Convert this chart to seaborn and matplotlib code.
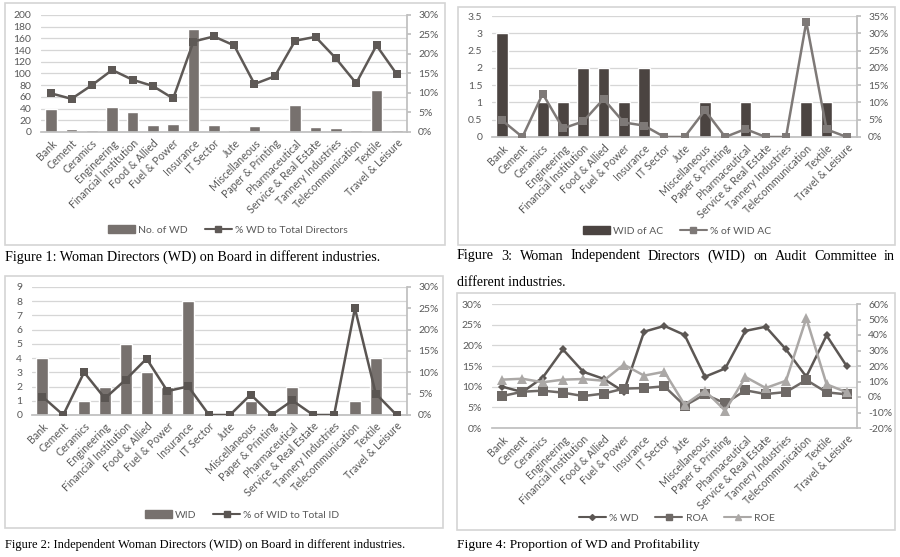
import numpy as np
import pandas as pd
import seaborn as sns
import matplotlib.pyplot as plt
from matplotlib.patches import Rectangle, Patch
from matplotlib.lines import Line2D

# ================= DATA =================
INDUSTRIES = [
    "Bank", "Cement", "Ceramics", "Engineering", "Financial Institution",
    "Food & Allied", "Fuel & Power", "Insurance", "IT Sector", "Jute",
    "Miscellaneous", "Paper & Printing", "Pharmaceutical",
    "Service & Real Estate", "Tannery Industries", "Telecommunication",
    "Textile", "Travel & Leisure",
]

# Figure 1
no_of_wd = [39, 5, 4, 43, 34, 12, 14, 176, 12, 4, 10, 2, 46, 9, 6, 3, 71, 4]
pct_wd_total = [9.9, 8.5, 12.0, 15.9, 13.4, 11.8, 8.6, 23.2, 24.5, 22.2,
                12.3, 14.3, 23.4, 24.4, 18.9, 12.5, 22.2, 14.8]

# Figure 2
wid = [4, 0, 1, 2, 5, 3, 2, 8, 0, 0, 1, 0, 2, 0, 0, 1, 4, 0]
pct_wid_total_id = [4.3, 0, 10.0, 3.9, 8.3, 13.2, 5.6, 6.7, 0, 0,
                    4.8, 0, 3.4, 0, 0, 25.0, 5.0, 0]

# Figure 3
wid_ac = [3, 0, 1, 1, 2, 2, 1, 2, 0, 0, 1, 0, 1, 0, 0, 1, 1, 0]
pct_wid_ac = [4.8, 0, 12.5, 2.5, 4.5, 11.0, 4.2, 3.3, 0, 0,
              7.7, 0, 2.3, 0, 0, 33.3, 2.2, 0]

# Figure 4
pct_wd = [10.0, 8.7, 12.2, 19.0, 13.6, 11.9, 8.8, 23.3, 24.7, 22.5,
          12.4, 14.4, 23.5, 24.5, 19.0, 12.4, 22.4, 14.9]
roa = [0.6, 3.4, 4.1, 2.8, 0.6, 2.2, 5.4, 5.8, 6.9, -5.6,
       1.7, -4.1, 4.3, 1.9, 3.2, 11.0, 3.0, 1.7]
roe = [11.2, 11.8, 9.5, 11.2, 11.6, 10.5, 20.9, 13.8, 16.3, -5.0,
       4.1, -8.8, 12.9, 5.8, 10.5, 50.8, 8.2, 3.0]
# =========================================

df = pd.DataFrame({
    "industry": INDUSTRIES,
    "no_of_wd": no_of_wd, "pct_wd_total": pct_wd_total,
    "wid": wid, "pct_wid_total_id": pct_wid_total_id,
    "wid_ac": wid_ac, "pct_wid_ac": pct_wid_ac,
    "pct_wd": pct_wd, "roa": roa, "roe": roe,
})

sns.set_theme(style="white")
plt.rcParams["font.family"] = ["Lato", "DejaVu Sans"]

W, H = 900, 557
fig = plt.figure(figsize=(9, 5.57), dpi=100)

GRID = "#d6d6d6"
AXC = "#bfbfbf"
TXT = "#595959"
SERIF = "Liberation Serif"


def fx(px):
    return px / W


def fy(py):
    return 1 - py / H


def make_axes(x0, y0, x1, y1):
    return fig.add_axes([fx(x0), fy(y1), fx(x1) - fx(x0), (y1 - y0) / H])


def style(ax, ax2, yticks, ylabels, yticks2, ylabels2):
    ax.set_yticks(yticks)
    ax.set_yticklabels(ylabels)
    ax2.set_yticks(yticks2)
    ax2.set_yticklabels(ylabels2)
    ax.set_ylim(yticks[0], yticks[-1])
    ax2.set_ylim(yticks2[0], yticks2[-1])
    ax.yaxis.grid(True, color=GRID, lw=0.9)
    ax.set_axisbelow(True)
    for a in (ax, ax2):
        a.set_xlabel("")
        a.set_ylabel("")
        a.set_xlim(-0.5, len(INDUSTRIES) - 0.5)
        for s in a.spines.values():
            s.set_visible(False)
    ax.spines["bottom"].set_visible(True)
    ax.spines["bottom"].set_color(AXC)
    ax2.spines["right"].set_visible(True)
    ax2.spines["right"].set_color(AXC)
    ax.tick_params(axis="y", length=0, labelsize=7.5, labelcolor=TXT, pad=7)
    ax2.tick_params(axis="y", right=True, length=3, color=AXC, labelsize=7.5,
                    labelcolor=TXT, pad=5)
    ax.set_xticks(range(len(INDUSTRIES)))
    ax.set_xticklabels(INDUSTRIES, rotation=45, ha="right",
                       rotation_mode="anchor")
    ax.tick_params(axis="x", length=0, labelsize=7.7, labelcolor=TXT, pad=4)
    ax2.tick_params(axis="x", bottom=False, labelbottom=False)


def box(x0, y0, x1, y1):
    fig.add_artist(Rectangle((fx(x0), fy(y1)), fx(x1) - fx(x0), (y1 - y0) / H,
                             transform=fig.transFigure, fill=False,
                             ec="#d4d4d4", lw=1.2))


def legend(handles, labels, cx, cy):
    fig.legend(handles, labels, loc="center", bbox_to_anchor=(fx(cx), fy(cy)),
               ncol=len(handles), frameon=False, fontsize=7.5,
               handlelength=2.6, handletextpad=0.3, columnspacing=1.6,
               labelcolor=TXT)


pct = lambda vals: [f"{v:g}%" for v in vals]

# --------------------------------------------------
# Figure 1
# --------------------------------------------------
box(5, 3, 445, 245)
ax = make_axes(41, 15, 407, 132)
ax2 = ax.twinx()
c_bar, c_line = "#77716e", "#5e5956"
sns.barplot(data=df, x="industry", y="no_of_wd", color=c_bar, saturation=1,
            width=0.58, ax=ax)
sns.pointplot(data=df, x="industry", y="pct_wd_total", color=c_line,
              errorbar=None, markers="s", linestyles="-", ax=ax2,
              markersize=5.5, linewidth=1.8, markeredgewidth=0)
style(ax, ax2, list(range(0, 201, 20)), [str(v) for v in range(0, 201, 20)],
      list(range(0, 31, 5)), pct(range(0, 31, 5)))
legend([Patch(color=c_bar),
        Line2D([], [], color=c_line, marker="s", ms=5, lw=1.5)],
       ["No. of WD", "% WD to Total Directors"], 228, 230)
fig.text(fx(5), fy(257), "Figure 1: Woman Directors (WD) on Board in different industries.",
         family=SERIF, fontsize=10.2, va="center", color="black")

# --------------------------------------------------
# Figure 3
# --------------------------------------------------
box(458, 7, 895, 245)
ax = make_axes(492, 16, 857, 137)
ax2 = ax.twinx()
c_bar, c_line = "#4b4441", "#7e7977"
sns.barplot(data=df, x="industry", y="wid_ac", color=c_bar, saturation=1,
            width=0.58, ax=ax)
sns.pointplot(data=df, x="industry", y="pct_wid_ac", color=c_line,
              errorbar=None, markers="s", linestyles="-", ax=ax2,
              markersize=5.5, linewidth=1.8, markeredgewidth=0)
yt = [v / 2 for v in range(0, 8)]
style(ax, ax2, yt, [f"{v:g}" for v in yt],
      list(range(0, 36, 5)), pct(range(0, 36, 5)))
legend([Patch(color=c_bar),
        Line2D([], [], color=c_line, marker="s", ms=5, lw=1.5)],
       ["WID of AC", "% of WID AC"], 677, 231)

# justified caption line
words = "Figure 3: Woman Independent Directors (WID) on Audit Committee in".split()
texts = [fig.text(0, fy(256), w, family=SERIF, fontsize=10.2,
                  va="center", color="black") for w in words]
fig.canvas.draw()
rend = fig.canvas.get_renderer()
widths = [t.get_window_extent(rend).width for t in texts]
x0, x1 = 457, 895
gap = (x1 - x0 - sum(widths)) / (len(words) - 1)
x = x0
for t, w in zip(texts, widths):
    t.set_x(fx(x))
    x += w + gap
fig.text(fx(457), fy(283), "different industries.", family=SERIF,
         fontsize=10, va="center", color="black")

# --------------------------------------------------
# Figure 2
# --------------------------------------------------
box(5, 276, 443, 528)
ax = make_axes(32, 287, 407, 415)
ax2 = ax.twinx()
c_bar, c_line = "#77716e", "#5a5552"
sns.barplot(data=df, x="industry", y="wid", color=c_bar, saturation=1,
            width=0.58, ax=ax)
sns.pointplot(data=df, x="industry", y="pct_wid_total_id", color=c_line,
              errorbar=None, markers="s", linestyles="-", ax=ax2,
              markersize=5.5, linewidth=1.8, markeredgewidth=0)
style(ax, ax2, list(range(0, 10)), [str(v) for v in range(0, 10)],
      list(range(0, 31, 5)), pct(range(0, 31, 5)))
legend([Patch(color=c_bar),
        Line2D([], [], color=c_line, marker="s", ms=5, lw=1.5)],
       ["WID", "% of WID to Total ID"], 242, 515)
fig.text(fx(5), fy(545), "Figure 2: Independent Woman Directors (WID) on Board in different industries.",
         family=SERIF, fontsize=9.0, va="center", color="black")

# --------------------------------------------------
# Figure 4
# --------------------------------------------------
box(457, 293, 895, 530)
ax = make_axes(492, 304, 857, 428)
ax2 = ax.twinx()
c_wd, c_roa, c_roe = "#5c5754", "#6e6966", "#aba8a6"
sns.pointplot(data=df, x="industry", y="pct_wd", color=c_wd, errorbar=None,
              markers="D", linestyles="-", ax=ax, markersize=4,
              linewidth=1.8, markeredgewidth=0)
sns.pointplot(data=df, x="industry", y="roa", color=c_roa, errorbar=None,
              markers="s", linestyles="-", ax=ax2, markersize=6.5,
              linewidth=1.8, markeredgewidth=0)
sns.pointplot(data=df, x="industry", y="roe", color=c_roe, errorbar=None,
              markers="^", linestyles="-", ax=ax2, markersize=6.5,
              linewidth=1.8, markeredgewidth=0)
style(ax, ax2, list(range(0, 31, 5)), pct(range(0, 31, 5)),
      list(range(-20, 61, 10)), pct(range(-20, 61, 10)))
legend([Line2D([], [], color=c_wd, marker="D", ms=3, lw=1.5),
        Line2D([], [], color=c_roa, marker="s", ms=5, lw=1.5),
        Line2D([], [], color=c_roe, marker="^", ms=5, lw=1.5)],
       ["% WD", "ROA", "ROE"], 677, 518)
fig.text(fx(457), fy(545), "Figure 4: Proportion of WD and Profitability",
         family=SERIF, fontsize=9.7, va="center", color="black")

fig.savefig("out.png", dpi=100, facecolor="white")
